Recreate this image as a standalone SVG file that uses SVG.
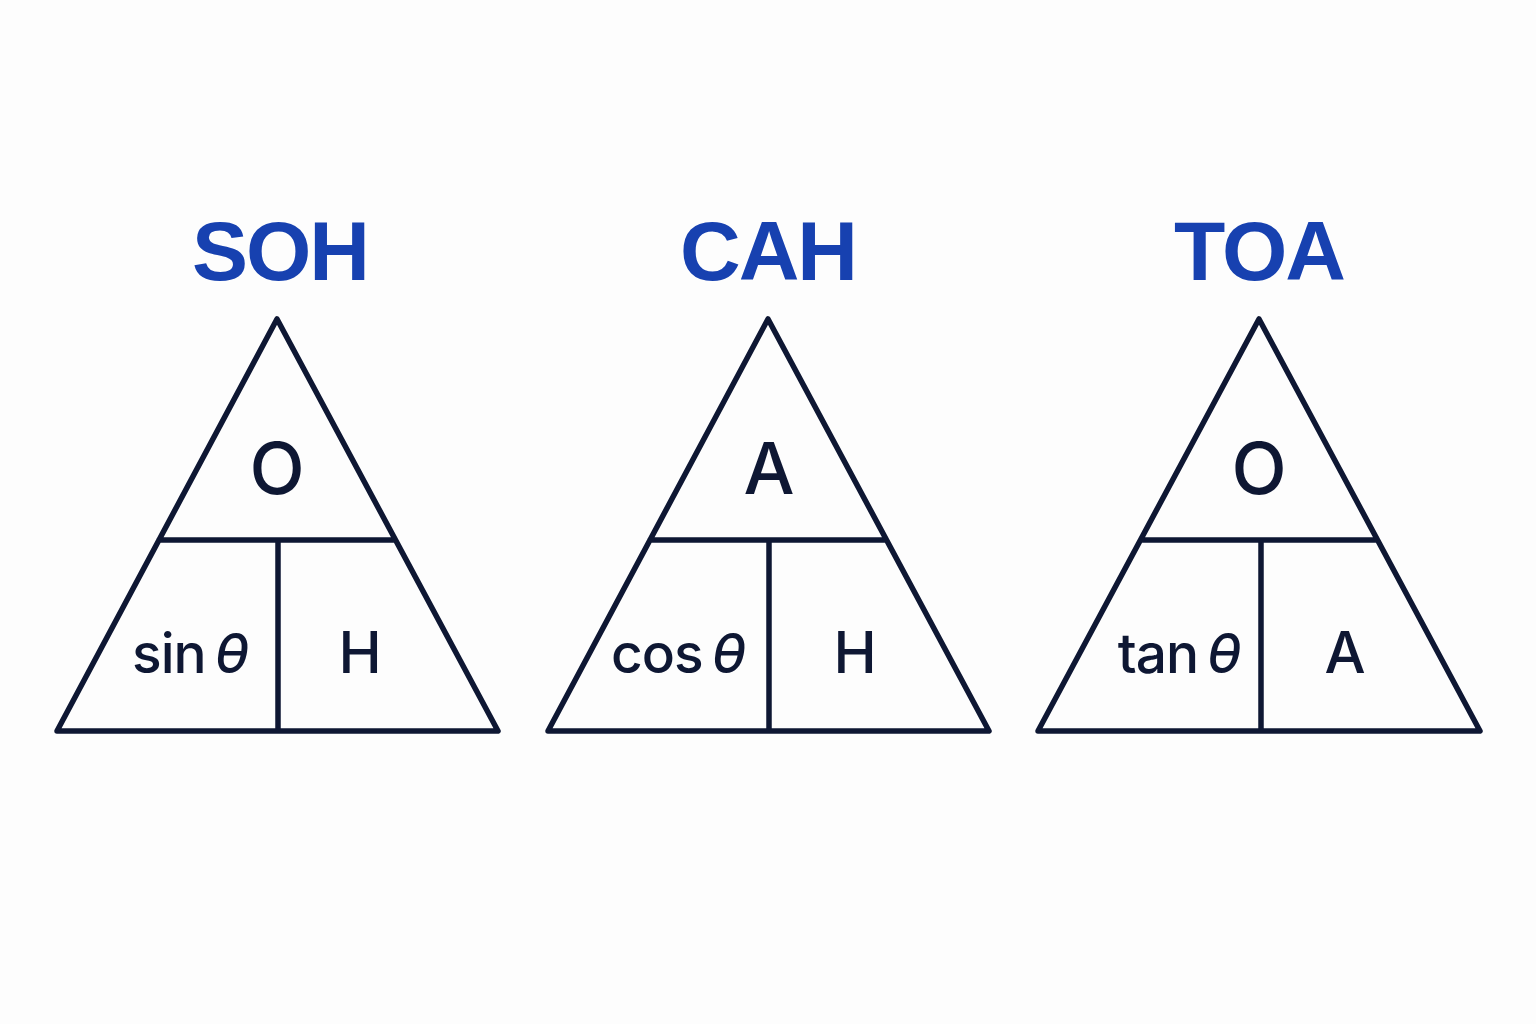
<svg xmlns="http://www.w3.org/2000/svg" width="1536" height="1024" viewBox="0 0 1536 1024">
<style>
.bg{fill:#fdfdfd}
.tri{fill:none;stroke:#0e1733;stroke-width:5.5;stroke-linejoin:round;stroke-linecap:round}
.title{font-family:"Liberation Sans",Arial,sans-serif;font-weight:700;font-size:84px;fill:#1741b0;text-anchor:middle;letter-spacing:-2px}
.big{font-family:Inter,"Noto Sans",sans-serif;font-weight:500;font-size:72px;fill:#0e1733;text-anchor:middle}
.lbl{font-family:Inter,"Noto Sans",sans-serif;font-weight:500;font-size:58px;fill:#0e1733;text-anchor:middle}
.trig{font-family:Inter,"Noto Sans",sans-serif;font-weight:500;font-size:55px;fill:#0e1733;text-anchor:middle;letter-spacing:-1px}
.th{font-style:italic}
</style>
<rect class="bg" x="0" y="0" width="1536" height="1024"/>
<g id="soh">
  <text class="title" x="280" y="280">SOH</text>
  <path class="tri" d="M57,731 L277,319 L498,731 Z M159,540 L395,540 M278,540 L278,731"/>
  <text class="big" x="277" y="494">O</text>
  <text class="trig" x="190" y="673">sin<tspan class="th" dx="9">θ</tspan></text>
  <text class="lbl" x="360" y="673">H</text>
</g>
<g id="cah">
  <text class="title" x="768" y="280">CAH</text>
  <path class="tri" d="M548,731 L768,319 L989,731 Z M650,540 L886,540 M769,540 L769,731"/>
  <text class="big" x="769" y="494">A</text>
  <text class="trig" x="678" y="673">cos<tspan class="th" dx="9">θ</tspan></text>
  <text class="lbl" x="855" y="673">H</text>
</g>
<g id="toa">
  <text class="title" x="1259" y="280">TOA</text>
  <path class="tri" d="M1038,731 L1259,319 L1480,731 Z M1141,540 L1377,540 M1261,540 L1261,731"/>
  <text class="big" x="1259" y="494">O</text>
  <text class="trig" x="1179" y="673">tan<tspan class="th" dx="9">θ</tspan></text>
  <text class="lbl" x="1345" y="673">A</text>
</g>
<g id="connectors"></g>
</svg>
